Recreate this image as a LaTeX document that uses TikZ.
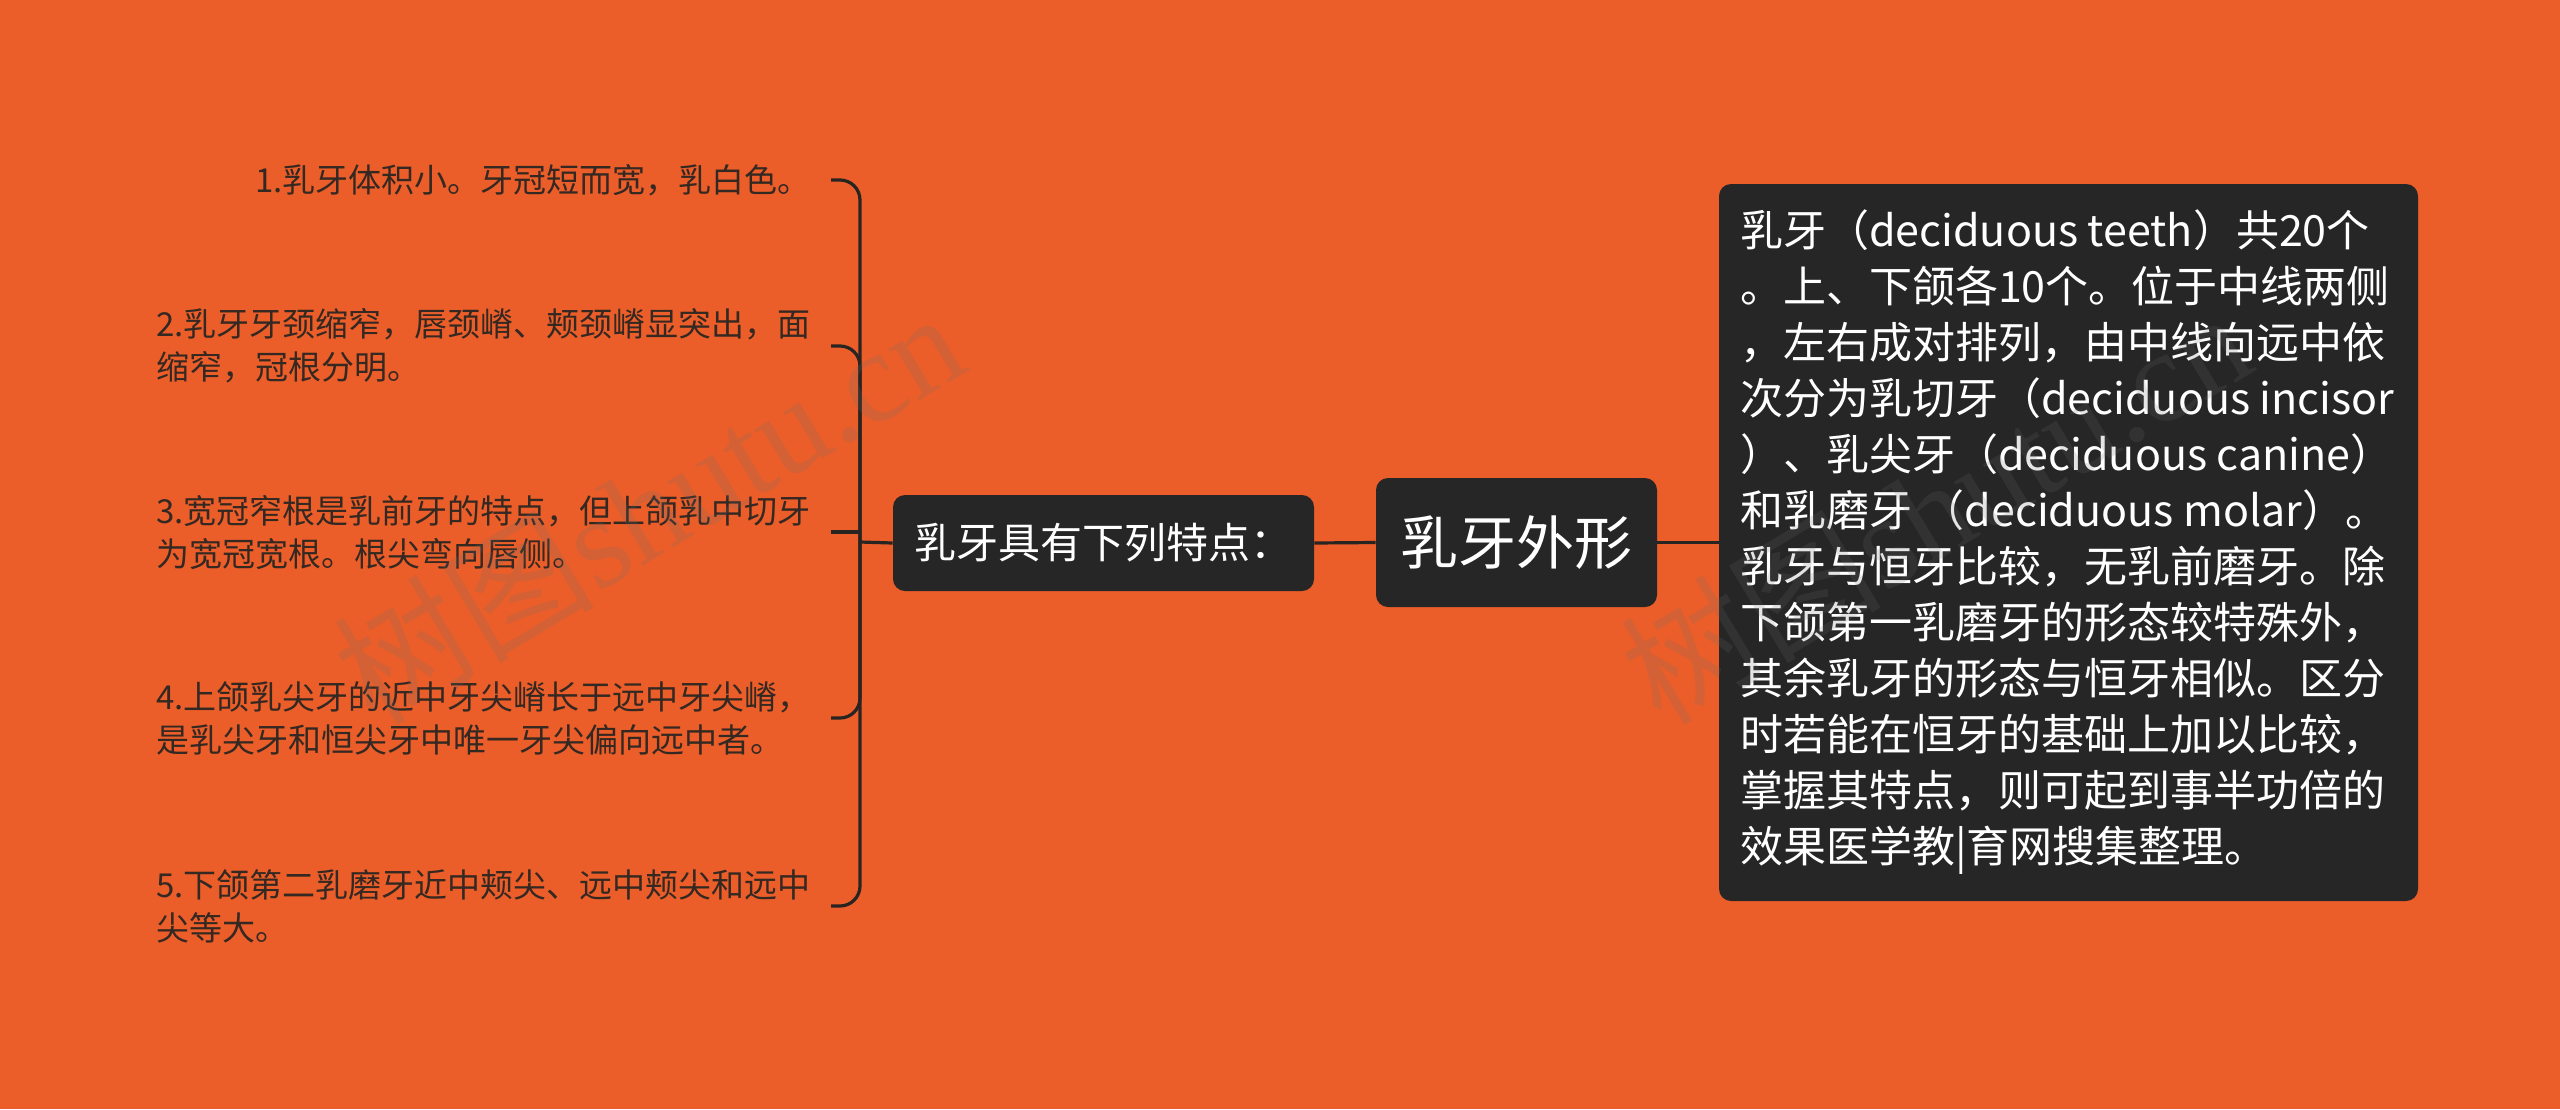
\documentclass[tikz,border=0pt]{standalone}
\usepackage{fontspec}
\setmainfont{Noto Sans CJK SC}
\newfontfamily\wmserif{Liberation Serif}
\definecolor{bg}{RGB}{235,94,41}
\definecolor{boxc}{RGB}{38,38,38}
\definecolor{linec}{RGB}{40,36,34}
\definecolor{itemc}{RGB}{52,40,34}
\definecolor{wmc}{RGB}{110,110,110}
\begin{document}
\begin{tikzpicture}[x=0.5pt,y=-0.5pt,
  darkbox/.style={fill=boxc, rounded corners=6pt, inner sep=0pt},
  itemtext/.style={text=itemc, align=left, anchor=east, inner xsep=10pt, inner ysep=0pt, font={\fontsize{16.5pt}{21.5pt}\selectfont}},
  conn/.style={draw=linec, line width=1.6pt},
  wmark/.style={text=wmc, opacity=0.18, rotate=31, font={\fontsize{65pt}{70pt}\selectfont}}]
\useasboundingbox (0,0) rectangle (2560,1109);
\fill[bg] (0,0) rectangle (2560,1109);

% main nodes
\node[darkbox, minimum width=140.5pt, minimum height=64.5pt, text=white, font={\fontsize{29pt}{32pt}\selectfont}] (root) at (1516.5,542.5) {乳牙外形};
\node[darkbox, minimum width=210.5pt, minimum height=48pt, text=white, font={\fontsize{21pt}{24pt}\selectfont}] (mid) at (1103.5,543) {乳牙具有下列特点：};
\node[darkbox, minimum width=349.5pt, minimum height=358.5pt] (desc) at (2068.5,542.5) {};
\node[text=white, align=left, anchor=west, inner sep=0pt, font={\fontsize{21.5pt}{28pt}\selectfont}] (desctext) at ([xshift=10.5pt]desc.west) {乳牙（deciduous teeth）共20个\\。上、下颌各10个。位于中线两侧\\，左右成对排列，由中线向远中依\\次分为乳切牙（deciduous incisor\\）、乳尖牙（deciduous canine）\\和乳磨牙 （deciduous molar）。\\乳牙与恒牙比较，无乳前磨牙。除\\下颌第一乳磨牙的形态较特殊外，\\其余乳牙的形态与恒牙相似。区分\\时若能在恒牙的基础上加以比较，\\掌握其特点，则可起到事半功倍的\\效果医学教|育网搜集整理。};

% items
\node[itemtext] (i1) at (831,180) {1.乳牙体积小。牙冠短而宽，乳白色。};
\node[itemtext] (i2) at (831,346) {2.乳牙牙颈缩窄，唇颈嵴、颊颈嵴显突出，面\\缩窄，冠根分明。};
\node[itemtext] (i3) at (831,532) {3.宽冠窄根是乳前牙的特点，但上颌乳中切牙\\为宽冠宽根。根尖弯向唇侧。};
\node[itemtext] (i4) at (831,718) {4.上颌乳尖牙的近中牙尖嵴长于远中牙尖嵴，\\是乳尖牙和恒尖牙中唯一牙尖偏向远中者。};
\node[itemtext] (i5) at (831,906) {5.下颌第二乳磨牙近中颊尖、远中颊尖和远中\\尖等大。};

\coordinate (bx) at (860,542);

% connectors
\draw[conn] (mid.east) -- (root.west);
\draw[conn] (root.east) -- (desc.west);
\draw[conn] (bx) -- (mid.west);
\draw[conn, rounded corners=10pt] (i1.east) -| (bx) |- (i5.east);
\draw[conn, rounded corners=10pt] (i2.east) -| (bx);
\draw[conn, rounded corners=10pt] (i4.east) -| (bx);
\draw[conn] (i3.east) -- (i3.east -| bx);

% watermarks
\node[wmark] (wm1) at (648,506) {树图{\wmserif shutu.cn}};
\node[wmark] (wm2) at (1935,506) {树图{\wmserif shutu.cn}};
\end{tikzpicture}
\end{document}
